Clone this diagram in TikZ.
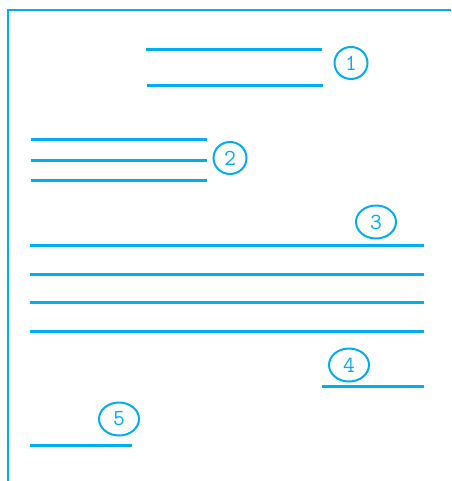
\documentclass[tikz,border=0pt]{standalone}
\usetikzlibrary{shapes.geometric}
\definecolor{cy}{HTML}{00AEEF}
\begin{document}
\begin{tikzpicture}[x=1pt,y=-1pt,
  bar/.style={draw=cy,line width=3pt},
  frame/.style={draw=cy,line width=2.5pt},
  num/.style={ellipse,draw=cy,line width=2pt,text=cy,inner sep=0pt,
    font=\fontsize{23}{23}\ttfamily},
  nsmall/.style={num,minimum width=33pt,minimum height=32pt},
  nwide/.style={num,minimum width=40pt,minimum height=33pt}]
\useasboundingbox (0,0) rectangle (451,481);
\fill[white] (0,0) rectangle (451,481);
\draw[frame] (8,481) -- (8,10) -- (451,10);
% group 1
\draw[bar] (146,50) -- (322,50);
\draw[bar] (147,86) -- (323,86);
\node[nsmall] (n1) at (351,63) {1};
% group 2
\draw[bar] (31,140) -- (207,140);
\draw[bar] (31,160) -- (207,160);
\draw[bar] (31,180) -- (207,180);
\node[nsmall] (n2) at (230,158) {2};
% group 3
\node[nwide] (n3) at (376,222) {3};
\draw[bar] (30,245) -- (424,245);
\draw[bar] (30,274) -- (424,274);
\draw[bar] (30,302) -- (424,302);
\draw[bar] (30,331) -- (424,331);
% group 4
\node[nwide] (n4) at (349,365) {4};
\draw[bar] (322,386) -- (424,386);
% group 5
\node[nwide] (n5) at (119,419) {5};
\draw[bar] (30,445) -- (132,445);
\end{tikzpicture}
\end{document}
